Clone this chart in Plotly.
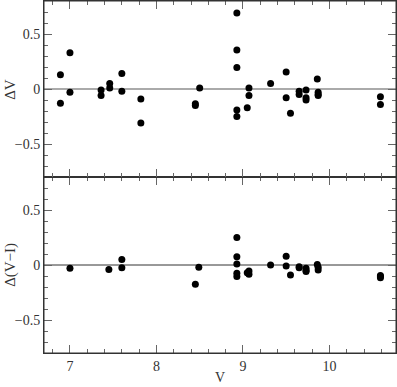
import plotly.graph_objects as go

# Top panel: Delta V vs V
v_top = [6.89, 6.89, 7.00, 7.00, 7.36, 7.36, 7.46, 7.46, 7.60, 7.60, 7.82, 7.82,
         8.45, 8.45, 8.50,
         8.93, 8.93, 8.93, 8.93, 8.93, 9.05, 9.07, 9.07, 9.32, 9.50, 9.50, 9.55,
         9.65, 9.65, 9.73, 9.73, 9.73, 9.86, 9.87, 9.87, 9.87, 10.59, 10.59]
dv_top = [0.13, -0.13, 0.33, -0.03, -0.01, -0.06, 0.05, 0.01, 0.14, -0.02, -0.09, -0.31,
          -0.135, -0.15, 0.01,
          0.69, 0.355, 0.195, -0.19, -0.25, -0.17, 0.01, -0.06, 0.05, 0.155, -0.08, -0.22,
          -0.02, -0.05, -0.01, -0.08, -0.10, 0.09, -0.03, -0.05, -0.06, -0.07, -0.14]

# Bottom panel: Delta(V-I) vs V
v_bot = [7.00, 7.45, 7.60, 7.60, 8.45, 8.49,
         8.93, 8.93, 8.93, 8.93, 8.93, 9.05, 9.07, 9.07, 9.32, 9.50, 9.50, 9.55,
         9.65, 9.65, 9.73, 9.73, 9.73, 9.86, 9.87, 9.87, 10.59, 10.59, 10.59]
dvi_bot = [-0.03, -0.04, 0.05, -0.025, -0.175, -0.02,
           0.25, 0.075, 0.01, -0.075, -0.105, -0.07, -0.055, -0.085, 0.0, 0.08, -0.01, -0.09,
           -0.015, -0.025, -0.03, -0.05, -0.06, 0.005, -0.02, -0.045, -0.095, -0.115, -0.105]

x_ticks = [7, 8, 9, 10]
y_ticks = [-0.5, 0, 0.5]
y_tick_text = ["\u22120.5", "0", "0.5"]
x_title = "V"
y_title_top = "\u0394V"
y_title_bot = "\u0394(V\u2212I)"

FONT = "Liberation Serif"
FRAME = "#333333"
TICK = "#666666"

fig = go.Figure()
fig.add_trace(go.Scatter(x=v_top, y=dv_top, mode="markers", xaxis="x2", yaxis="y2",
                         marker=dict(color="black", size=7), showlegend=False))
fig.add_trace(go.Scatter(x=v_bot, y=dvi_bot, mode="markers", xaxis="x", yaxis="y",
                         marker=dict(color="black", size=7), showlegend=False))

xcommon = dict(range=[6.7, 10.77], tickvals=x_ticks, ticks="inside", ticklen=8,
               tickcolor=TICK, tickwidth=1, showline=True, linecolor=FRAME, linewidth=1,
               mirror="allticks", showgrid=False, zeroline=False, automargin=False,
               minor=dict(ticks="inside", ticklen=4, dtick=0.2, tick0=7, tickcolor=TICK,
                          showgrid=False))
ycommon = dict(range=[-0.8, 0.8], tickvals=y_ticks, ticktext=y_tick_text, ticks="inside",
               ticklen=8, tickcolor=TICK, tickwidth=1, showline=True, linecolor=FRAME,
               linewidth=1, mirror="allticks", showgrid=False, zeroline=False,
               automargin=False,
               minor=dict(ticks="inside", ticklen=4, dtick=0.1, tick0=0, tickcolor=TICK,
                          showgrid=False))

title_font = dict(family=FONT, size=15, color="#333333")

fig.update_layout(
    width=397, height=387,
    margin=dict(l=44, r=1, t=1, b=34),
    paper_bgcolor="white", plot_bgcolor="white",
    font=dict(family=FONT, size=14, color="#333333"),
    xaxis=dict(**xcommon, domain=[0, 1], anchor="y"),
    xaxis2=dict(**xcommon, domain=[0, 1], anchor="y2", matches="x", showticklabels=False),
    yaxis=dict(**ycommon, domain=[0, 0.5], anchor="x"),
    yaxis2=dict(**ycommon, domain=[0.5, 1], anchor="x2"),
    shapes=[
        dict(type="line", xref="x2 domain", yref="y2", x0=0, x1=1, y0=0, y1=0,
             line=dict(color="#aaaaaa", width=2), layer="below"),
        dict(type="line", xref="x domain", yref="y", x0=0, x1=1, y0=0, y1=0,
             line=dict(color="#333333", width=1), layer="below"),
        dict(type="rect", xref="paper", yref="paper", x0=0, x1=1, y0=0, y1=1,
             line=dict(color=FRAME, width=1), layer="above"),
    ],
    annotations=[
        dict(text=x_title, xref="paper", yref="paper", x=0.5, y=-0.094,
             xanchor="center", yanchor="bottom", showarrow=False,
             font=dict(family=FONT, size=14, color="#333333"), borderpad=0),
        dict(text=y_title_top, xref="paper", yref="paper", x=-0.097, y=0.75,
             xanchor="center", yanchor="middle", showarrow=False, textangle=-90,
             font=title_font),
        dict(text=y_title_bot, xref="paper", yref="paper", x=-0.097, y=0.25,
             xanchor="center", yanchor="middle", showarrow=False, textangle=-90,
             font=title_font),
    ],
)

fig.write_html("out.html", config={"displayModeBar": False},
               post_script="document.body.style.margin='0';document.body.style.overflow='hidden';")
